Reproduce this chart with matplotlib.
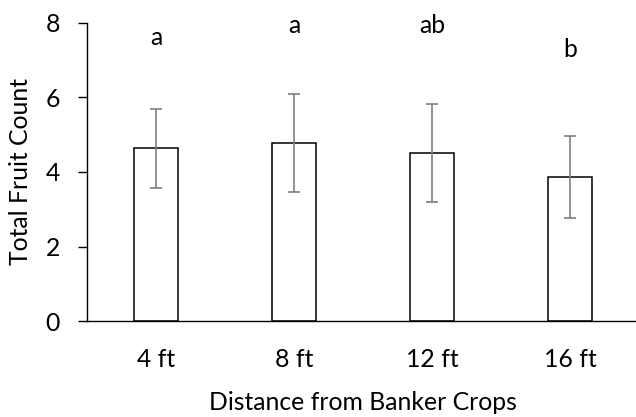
import matplotlib.pyplot as plt

# data
distances = ['4 ft', '8 ft', '12 ft', '16 ft']
fruit_count = [4.63, 4.78, 4.50, 3.87]
fruit_err = [1.07, 1.31, 1.31, 1.10]
letters = ['a', 'a', 'ab', 'b']
letter_y = [7.40, 7.72, 7.72, 7.08]

plt.rcParams['font.family'] = ['Lato', 'DejaVu Sans']
fs = 17.8

fig = plt.figure(figsize=(6.36, 4.17), dpi=100)
ax = fig.add_axes([0.1368, 0.2295, 0.8679, 0.7161])

x = range(len(distances))
ax.bar(x, fruit_count, width=0.314, color='white', edgecolor='black',
       linewidth=1.1)
ax.errorbar(x, fruit_count, yerr=fruit_err, fmt='none', ecolor='#7f7f7f',
            elinewidth=1.2, capsize=4.3, capthick=1.2)

# significance letters above the bars
for i, lab in enumerate(letters):
    ax.text(i, letter_y[i], lab, ha='center', va='baseline', fontsize=fs)

ax.set_xlim(-0.5, 3.5)
ax.set_ylim(0, 8)
ax.set_yticks([0, 2, 4, 6, 8])
ax.set_xticks(list(x))
ax.set_xticklabels(distances)

for side in ['top', 'right']:
    ax.spines[side].set_visible(False)
ax.spines['left'].set_linewidth(1.0)
ax.spines['bottom'].set_linewidth(1.0)

ax.tick_params(axis='y', length=6.5, width=1.0, pad=13, labelsize=fs)
ax.tick_params(axis='x', length=0, pad=19.5, labelsize=fs)

ax.set_ylabel('Total Fruit Count', fontsize=fs, labelpad=10)
ax.set_xlabel('Distance from Banker Crops', fontsize=fs, labelpad=14)

fig.savefig('out.png', dpi=100)
